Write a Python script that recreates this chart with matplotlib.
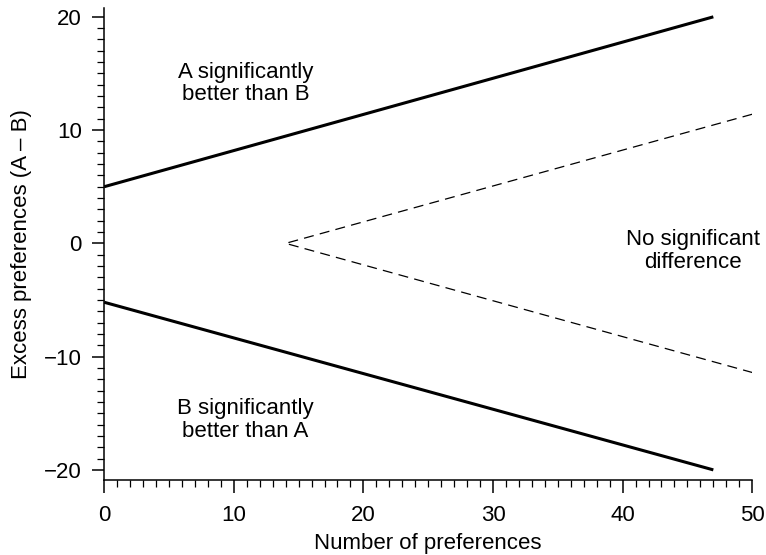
import matplotlib
matplotlib.use("Agg")
import matplotlib.pyplot as plt
from matplotlib.ticker import MultipleLocator

plt.rcParams['font.family'] = ['Liberation Sans', 'DejaVu Sans']

# Data
upper_x = [0, 47]
upper_y = [5, 20]
lower_x = [0, 47]
lower_y = [-5.2, -20]
dash_x = [50, 14, 50]
dash_y = [11.4, 0, -11.4]

xticks = [0, 10, 20, 30, 40, 50]
yticks = [-20, -10, 0, 10, 20]
ytick_labels = ['\u221220', '\u221210', '0', '10', '20']

labels = ["A significantly\nbetter than B", "No significant\ndifference", "B significantly\nbetter than A"]
label_pos = [(10.9, 14.1), (45.4, -0.7), (10.9, -15.6)]

FS = 16

fig = plt.figure(figsize=(7.66, 5.55), dpi=100)
ax = fig.add_axes([0.136, 0.135, 0.846, 0.851])

ax.plot(upper_x, upper_y, color='black', lw=2.2, solid_capstyle='butt')
ax.plot(lower_x, lower_y, color='black', lw=2.2, solid_capstyle='butt')
ax.plot(dash_x, dash_y, color='black', lw=0.9, dashes=(8, 5))

for t, (x, y) in zip(labels, label_pos):
    ax.text(x, y, t, ha='center', va='center', fontsize=FS, linespacing=1.1)

ax.set_xlim(0, 50)
ax.set_ylim(-20.9, 20.8)
ax.set_xticks(xticks)
ax.set_yticks(yticks)
ax.set_yticklabels(ytick_labels)
ax.xaxis.set_minor_locator(MultipleLocator(1))
ax.yaxis.set_minor_locator(MultipleLocator(1))

for s in ['top', 'right']:
    ax.spines[s].set_visible(False)
for s in ['left', 'bottom']:
    ax.spines[s].set_linewidth(1.1)

ax.tick_params(which='major', direction='out', length=9, width=1.1, labelsize=FS)
ax.tick_params(which='minor', direction='out', length=5, width=0.9)
ax.tick_params(axis='x', which='major', pad=9)
ax.tick_params(axis='y', which='major', pad=7)

ax.set_xlabel('Number of preferences', fontsize=FS, labelpad=5)
ax.set_ylabel('Excess preferences (A \u2013 B)', fontsize=FS, labelpad=9)

fig.savefig('out.png', dpi=100)
